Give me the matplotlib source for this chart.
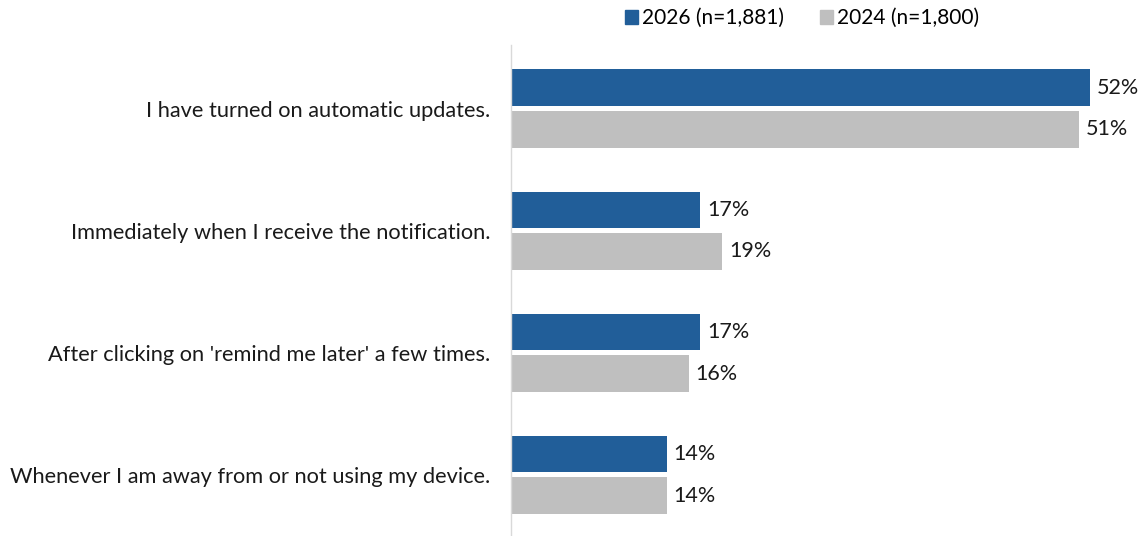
import matplotlib.pyplot as plt
import numpy as np
from matplotlib.patches import Patch

plt.rcParams['font.family'] = ['Lato', 'DejaVu Sans']

categories = [
    "I have turned on automatic updates.",
    "Immediately when I receive the notification.",
    "After clicking on 'remind me later' a few times.",
    "Whenever I am away from or not using my device.",
]
series_names = ["2026 (n=1,881)", "2024 (n=1,800)"]
values_2026 = [52, 17, 17, 14]
values_2024 = [51, 19, 16, 14]

blue = '#215E99'
grey = '#BFBFBF'

fig = plt.figure(figsize=(11.41, 5.36), dpi=100)
ax = fig.add_axes([511 / 1141, 0, 630 / 1141, 491 / 536])

y = np.arange(len(categories))
h = 0.3
off = 0.17

b1 = ax.barh(y - off, values_2026, height=h, color=blue)
b2 = ax.barh(y + off, values_2024, height=h, color=grey)

for bars, vals in ((b1, values_2026), (b2, values_2024)):
    for bar, v in zip(bars, vals):
        ax.text(bar.get_width() + 0.6, bar.get_y() + bar.get_height() / 2,
                f"{v}%", va='center', ha='left', fontsize=15.5, color='#1a1a1a')

ax.set_xlim(0, 56.6)
ax.set_ylim(3.50, -0.52)
ax.set_xticks([])
ax.set_yticks(y)
ax.set_yticklabels(categories, fontsize=15.7, color='#1a1a1a')
ax.tick_params(axis='y', length=0, pad=15)

for s in ('top', 'right', 'bottom'):
    ax.spines[s].set_visible(False)
ax.spines['left'].set_color('#D9D9D9')
ax.spines['left'].set_linewidth(1)

handles = [Patch(color=blue), Patch(color=grey)]
fig.legend(handles, series_names, loc='center', bbox_to_anchor=(802 / 1141, 1 - 18 / 536),
           ncol=2, frameon=False, fontsize=15, handlelength=0.65, handleheight=0.65,
           handletextpad=0.2, columnspacing=1.7)

fig.savefig('out.png', dpi=100)
